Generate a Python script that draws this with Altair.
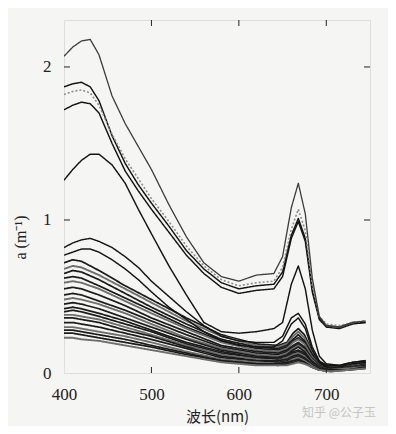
import altair as alt
import pandas as pd

# ---- data ----
wl_main = [400, 410, 420, 430, 440, 455, 470, 485, 500, 520, 540, 560, 580, 600,
           620, 640, 650, 660, 668, 676, 684, 692, 700, 715, 730, 745]
c1 = [2.07, 2.13, 2.17, 2.18, 2.08, 1.81, 1.63, 1.48, 1.33, 1.10, 0.89, 0.72, 0.63, 0.60,
      0.64, 0.65, 0.76, 1.08, 1.24, 1.04, 0.62, 0.37, 0.31, 0.30, 0.33, 0.34]
c2 = [1.87, 1.89, 1.90, 1.87, 1.78, 1.55, 1.37, 1.23, 1.11, 0.96, 0.80, 0.68, 0.59, 0.55,
      0.57, 0.58, 0.66, 0.90, 1.01, 0.88, 0.55, 0.36, 0.31, 0.30, 0.33, 0.33]
c3 = [1.82, 1.84, 1.85, 1.83, 1.75, 1.56, 1.40, 1.27, 1.14, 0.99, 0.83, 0.70, 0.61, 0.57,
      0.59, 0.60, 0.69, 0.94, 1.07, 0.93, 0.57, 0.37, 0.32, 0.31, 0.33, 0.34]
c4 = [1.72, 1.75, 1.77, 1.76, 1.70, 1.50, 1.32, 1.19, 1.07, 0.92, 0.77, 0.65, 0.56, 0.52,
      0.54, 0.55, 0.63, 0.88, 0.99, 0.86, 0.53, 0.35, 0.30, 0.29, 0.32, 0.33]
c5 = [1.26, 1.33, 1.39, 1.43, 1.43, 1.36, 1.24, 1.07, 0.91, 0.70, 0.51, 0.33, 0.27, 0.26,
      0.27, 0.29, 0.33, 0.58, 0.70, 0.55, 0.28, 0.11, 0.06, 0.05, 0.07, 0.08]
c6 = [0.82, 0.85, 0.87, 0.88, 0.86, 0.82, 0.76, 0.69, 0.60, 0.50, 0.40, 0.31, 0.24, 0.21,
      0.20, 0.20, 0.24, 0.36, 0.39, 0.32, 0.17, 0.08, 0.05, 0.05, 0.07, 0.08]
c7 = [0.77, 0.79, 0.81, 0.81, 0.79, 0.74, 0.68, 0.61, 0.53, 0.43, 0.35, 0.27, 0.21, 0.18,
      0.17, 0.17, 0.21, 0.32, 0.36, 0.29, 0.15, 0.07, 0.04, 0.04, 0.06, 0.07]

wl_low = [400, 410, 420, 440, 470, 500, 540, 580, 620, 645, 655, 662, 668, 675, 683,
          692, 705, 725, 745]
low1 = [.72, .74, .73, .67, .57, .48, .36, .25, .19, .18, .20, .26, .29, .25, .15, .07, .04, .05, .07]
low2 = [.68, .70, .69, .64, .55, .46, .34, .24, .18, .17, .19, .24, .27, .23, .14, .06, .04, .05, .08]
low3 = [.65, .67, .66, .61, .52, .43, .32, .22, .17, .16, .18, .22, .25, .21, .13, .06, .03, .05, .07]
low4 = [.62, .63, .62, .57, .49, .41, .30, .21, .16, .15, .17, .21, .23, .20, .12, .05, .03, .04, .06]
low5 = [.59, .60, .59, .55, .47, .39, .29, .20, .15, .14, .16, .20, .22, .19, .11, .05, .03, .05, .08]
low6 = [.55, .56, .55, .51, .44, .36, .27, .18, .14, .13, .15, .18, .20, .17, .10, .05, .03, .04, .06]
low7 = [.51, .52, .51, .47, .41, .34, .25, .17, .13, .12, .14, .17, .19, .16, .09, .04, .03, .04, .07]
low8 = [.48, .49, .48, .45, .39, .32, .23, .16, .12, .11, .13, .16, .18, .15, .09, .04, .02, .04, .06]
low9 = [.45, .46, .45, .42, .36, .30, .22, .15, .11, .10, .12, .15, .17, .14, .08, .04, .02, .04, .05]
low10 = [.42, .43, .42, .39, .34, .28, .20, .14, .10, .10, .11, .14, .15, .13, .07, .03, .02, .03, .05]
low11 = [.40, .41, .40, .37, .32, .27, .19, .13, .10, .09, .10, .13, .14, .12, .07, .03, .02, .03, .06]
low12 = [.38, .38, .37, .35, .30, .25, .18, .12, .09, .08, .10, .12, .13, .11, .06, .03, .02, .03, .05]
low13 = [.36, .36, .35, .33, .28, .24, .17, .11, .08, .08, .09, .11, .12, .10, .06, .03, .02, .03, .04]
low14 = [.33, .33, .32, .30, .26, .22, .16, .10, .08, .07, .08, .10, .11, .09, .05, .03, .02, .03, .05]
low15 = [.30, .30, .29, .27, .24, .20, .14, .09, .07, .06, .07, .09, .10, .08, .05, .02, .02, .03, .04]
low16 = [.28, .28, .27, .25, .22, .18, .13, .08, .06, .06, .07, .08, .09, .07, .04, .02, .02, .02, .04]
low17 = [.26, .26, .25, .23, .20, .17, .12, .08, .06, .05, .06, .07, .08, .07, .04, .02, .01, .02, .03]
low18 = [.23, .23, .22, .21, .18, .15, .11, .07, .05, .05, .05, .06, .07, .06, .04, .02, .01, .02, .03]

x_tick_values = [500, 600, 700]
y_tick_values = [1, 2]
x_label_values = [400, 500, 600, 700]
y_label_values = [0, 1, 2]

curves = [
    ("L1", "low", wl_low, low1), ("L2", "lowgray", wl_low, low2), ("L3", "low", wl_low, low3),
    ("L4", "low", wl_low, low4), ("L5", "lowgray", wl_low, low5), ("L6", "low", wl_low, low6),
    ("L7", "low", wl_low, low7), ("L8", "lowgray", wl_low, low8), ("L9", "low", wl_low, low9),
    ("L10", "low", wl_low, low10), ("L11", "low", wl_low, low11), ("L12", "lowgray", wl_low, low12),
    ("L13", "low", wl_low, low13), ("L14", "low", wl_low, low14), ("L15", "lowgray", wl_low, low15),
    ("L16", "low", wl_low, low16), ("L17", "low", wl_low, low17), ("L18", "lowgray", wl_low, low18),
    ("C7", "thick", wl_main, c7), ("C6", "thick", wl_main, c6), ("C5", "thick", wl_main, c5),
    ("C4", "thick", wl_main, c4), ("C2", "thick", wl_main, c2), ("C3", "dotted", wl_main, c3),
    ("C1", "thin", wl_main, c1),
]

rows = []
for order, (name, style, wl, vals) in enumerate(curves):
    for w, v in zip(wl, vals):
        rows.append({"curve": name, "style": style, "wl": w, "a": v, "o": order})
df = pd.DataFrame(rows)

SERIF = "Liberation Serif"
styles = ["thin", "thick", "dotted", "low", "lowgray"]
x_scale = alt.Scale(domain=[400, 750], nice=False, zero=False)
y_scale = alt.Scale(domain=[0, 2.307], nice=False)

lines = alt.Chart(df).mark_line(clip=True, strokeJoin="round").encode(
    x=alt.X("wl:Q", scale=x_scale,
            axis=alt.Axis(values=x_label_values, format="d", title="波长(nm)", grid=False,
                          ticks=False, domain=False, labelPadding=13, labelFontSize=17,
                          labelFlush=False, labelFont=SERIF, labelColor="#222",
                          titleFont="Noto Sans CJK SC", titleFontSize=15, titleColor="#222",
                          titleFontWeight="normal", titleY=43, titleBaseline="middle")),
    y=alt.Y("a:Q", scale=y_scale,
            axis=alt.Axis(values=y_label_values, format="d", title="a (m⁻¹)", grid=False,
                          ticks=False, domain=False, labelPadding=13, labelFontSize=17,
                          labelFlush=False, labelFont=SERIF, labelColor="#222",
                          titleFont=SERIF, titleFontSize=16, titleColor="#222",
                          titleFontWeight="normal", titleX=-44, titleY=217,
                          titleAngle=-90, titleAlign="center", titleBaseline="middle")),
    detail="curve:N",
    order=alt.Order("wl:Q"),
    color=alt.Color("style:N", legend=None,
                    scale=alt.Scale(domain=styles,
                                    range=["#3c3c3c", "#141414", "#8c8c8c", "#1c1c1c", "#6e6e6e"])),
    strokeWidth=alt.StrokeWidth("style:N", legend=None,
                                scale=alt.Scale(domain=styles, range=[1.3, 1.9, 1.3, 1.3, 1.1])),
    strokeDash=alt.StrokeDash("style:N", legend=None,
                              scale=alt.Scale(domain=styles,
                                              range=[[1, 0], [1, 0], [2, 2], [1, 0], [1, 0]])),
)

xt = pd.DataFrame({"wl": x_tick_values})
yt = pd.DataFrame({"a": y_tick_values})

xticks_bottom = alt.Chart(xt).mark_rule(color="#222", strokeWidth=1).encode(
    x=alt.X("wl:Q", scale=x_scale), y=alt.value(353), y2=alt.value(347))
xticks_top = alt.Chart(xt).mark_rule(color="#222", strokeWidth=1).encode(
    x=alt.X("wl:Q", scale=x_scale), y=alt.value(0), y2=alt.value(6))
yticks_left = alt.Chart(yt).mark_rule(color="#222", strokeWidth=1).encode(
    y=alt.Y("a:Q", scale=y_scale), x=alt.value(0), x2=alt.value(6))
yticks_right = alt.Chart(yt).mark_rule(color="#222", strokeWidth=1).encode(
    y=alt.Y("a:Q", scale=y_scale), x=alt.value(306), x2=alt.value(300))

watermark = alt.Chart(pd.DataFrame({"t": ["知乎 @公子玉"]})).mark_text(
    font="Noto Sans CJK SC", fontSize=12, color="#c4c4c4", align="left", baseline="middle"
).encode(text="t:N", x=alt.value(238), y=alt.value(393))

chart = alt.layer(lines, xticks_bottom, xticks_top, yticks_left, yticks_right, watermark).properties(
    width=306, height=353,
    autosize=alt.AutoSizeParams(type="none"),
    padding={"left": 56, "top": 12, "right": 18, "bottom": 53},
).configure_view(stroke="#222", strokeWidth=1.2).configure(background="#f5f5f3")

chart.save("out.html", embed_options={"renderer": "svg", "actions": False})
